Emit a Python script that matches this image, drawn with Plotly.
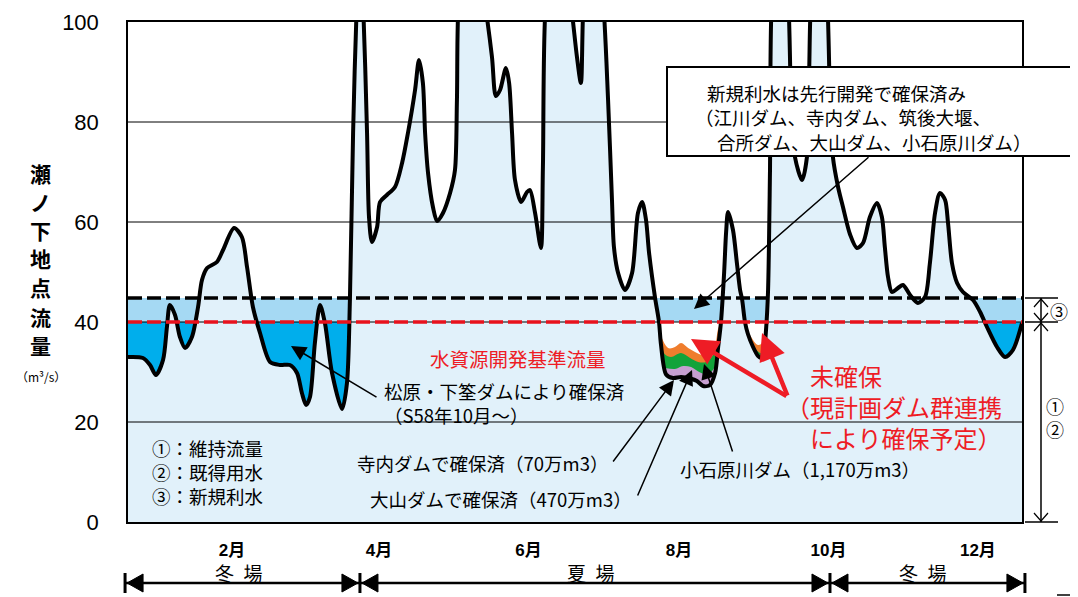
import plotly.graph_objects as go

# ---------------- data ----------------
day = [0.0, 6.1, 9.0, 11.4, 14.3, 15.9, 17.1, 19.2, 21.2, 23.3, 26.1, 28.6, 30.2, 32.3, 36.3, 38.8,
       43.3, 46.5, 48.6, 51.0, 53.9, 58.0, 62.1, 66.1, 69.0, 71.0, 72.7, 74.3, 76.3, 78.4, 80.4,
       83.3, 87.4, 89.4, 90.6, 91.9, 93.5, 94.7, 95.9, 97.6, 98.4, 99.6, 101.7, 102.9, 105.7,
       109.0, 111.9, 114.3, 117.2, 118.8, 120.4, 121.3, 122.5, 124.5, 126.2, 128.6, 131.5, 133.5,
       134.3, 135.1, 139.6, 145.3, 148.6, 150.2, 151.9, 154.3, 155.6, 156.8, 158.0, 160.5, 162.9,
       164.1, 166.2, 168.6, 169.4, 170.7, 175.6, 180.5, 183.3, 184.9, 186.1, 190.3, 193.9, 196.0,
       197.6, 198.4, 200.1, 202.9, 205.8, 208.2, 209.9, 211.5, 212.7, 215.2, 216.8, 217.6, 219.7,
       222.5, 225.8, 229.5, 232.3, 234.8, 237.6, 239.7, 240.9, 242.1, 243.4, 244.2, 245.0, 247.0,
       248.6, 249.9, 250.7, 251.9, 253.1, 255.2, 257.2, 258.4, 259.7, 260.5, 261.3, 262.1, 262.9,
       266.2, 269.5, 270.7, 272.3, 275.2, 277.2, 278.1, 278.9, 282.2, 285.4, 286.6, 287.8, 289.9,
       291.9, 294.8, 297.6, 300.1, 302.9, 305.8, 307.8, 309.0, 310.3, 311.9, 314.4, 316.4, 319.3,
       322.5, 325.4, 327.4, 329.5, 331.5, 333.6, 334.8, 336.4, 338.5, 340.9, 345.0, 347.9, 350.7,
       354.8, 358.1, 361.3, 365.0]
flow = [33.0, 32.8, 31.4, 29.4, 32.4, 39.0, 43.4, 41.4, 37.0, 34.8, 37.0, 43.0, 48.4, 50.8, 52.0, 54.4,
        58.8, 57.0, 51.0, 43.0, 37.8, 32.0, 31.4, 31.4, 29.8, 25.8, 23.4, 25.0, 35.8, 43.4, 39.8,
        29.8, 22.6, 27.8, 44.4, 77.8, 105, 115, 105, 77.8, 61.0, 56.0, 59.0, 64.0, 65.4,
        67.0, 71.8, 77.8, 86.4, 92.4, 87.8, 77.8, 69.8, 63.0, 60.2, 61.8, 65.8, 70.4,
        84.4, 105, 120, 105, 93.0, 85.2, 86.4, 90.8, 87.8, 77.8, 68.4, 64.0, 66.0,
        66.4, 61.8, 54.8, 71.0, 105, 120, 105, 93.0, 87.8, 105, 120, 105, 84.4,
        64.4, 55.0, 49.8, 46.4, 49.8, 61.8, 64.0, 60.4, 54.0, 44.8, 40.0, 35.5, 29.5,
        28.8, 29.0, 28.7, 28.2, 27.2, 27.4, 29.8, 34.8, 40.0, 50.0, 58.0, 62.0, 58.4,
        51.8, 46.4, 44.6, 40.0, 37.6, 35.0, 33.2, 32.8, 34.5, 38.5, 46.0, 70.0, 105,
        120, 105, 85.0, 73.0, 68.4, 73.0, 90.0, 105, 120, 105, 85.0, 73.0, 67.0,
        63.0, 57.5, 54.8, 55.8, 61.0, 63.8, 61.0, 55.0, 49.0, 46.0, 46.8, 47.4, 45.4,
        43.8, 45.0, 51.8, 61.8, 65.8, 64.4, 59.8, 51.8, 47.8, 46.0, 44.4, 42.0, 39.0,
        35.0, 33.0, 34.4, 39.8]

# dam contribution layers in August (top of each band)
koishiwara_x1 = [217.0, 220.5, 223.3, 225.8, 228.7, 231.5, 234.8, 237.6, 239.7, 240.9, 242.1]
koishiwara_y1 = [38.0, 34.8, 35.0, 35.8, 34.8, 34.0, 33.4, 33.8, 35.4, 38.6, 40.0]
ooyama_x1 = [217.9, 219.3, 221.7, 225.8, 229.5, 232.8, 236.1, 238.9, 240.5, 241.3]
ooyama_y1 = [35.0, 33.5, 33.0, 33.8, 32.8, 32.0, 32.0, 33.4, 35.5, 37.0]
terauchi_x1 = [219.3, 223.3, 226.6, 229.9, 233.6, 236.9, 239.3]
terauchi_y1 = [30.8, 30.6, 31.2, 31.0, 29.9, 29.5, 30.8]
koishiwara_x2 = [253.1, 253.9, 257.2, 260.1, 260.7]
koishiwara_y2 = [38.0, 37.4, 35.4, 36.4, 40.0]
ooyama_x2 = [255.2, 256.4, 258.4, 260.1, 260.5]
ooyama_y2 = [35.5, 34.5, 33.8, 34.6, 37.5]

new_use_level = 44.8      # ③ 新規利水 upper level
base_level = 40.0         # 水資源開発基準流量
aug_white = [214.0, 263.0]  # 未確保 period (white)

month_pos = [42.5, 102.5, 163.5, 225.0, 286.0, 347.0]
month_labels = ["2月", "4月", "6月", "8月", "10月", "12月"]
y_ticks = [0, 20, 40, 60, 80, 100]
season_bounds = [-1.2, 94.7, 286.6, 366.2]
season_labels = ["冬\u2002場", "夏\u2002場", "冬\u2002場"]

# ---------------- geometry helpers (page pixels) ----------------
OFF = 8                      # page body margin
W, H = 1078 - OFF, 597 - OFF
L, R, T, B = 128, 1022, 22, 522   # plot area in page pixels


def X(px):
    return (px - L) / (R - L)


def Y(py):
    return (B - py) / (B - T)


def d2px(d):
    return L + d * (R - L) / 365.0


JP = "Noto Sans CJK JP"
RED = "#ee1c25"

fig = go.Figure()

# band layers (drawn first, covered below flow by flow fill)
for xs, ys, col in [(koishiwara_x1, koishiwara_y1, "#ef7d2d"), (koishiwara_x2, koishiwara_y2, "#ef7d2d"),
                    (ooyama_x1, ooyama_y1, "#12a33a"), (ooyama_x2, ooyama_y2, "#12a33a"),
                    (terauchi_x1, terauchi_y1, "#c69fd0")]:
    fig.add_trace(go.Scatter(x=xs, y=ys, mode="lines", line=dict(width=0, shape="spline", color=col),
                             fill="tozeroy", fillcolor=col, hoverinfo="skip", showlegend=False))

fig.add_trace(go.Scatter(x=day, y=flow, mode="lines",
                         line=dict(color="black", width=4, shape="spline", smoothing=0.8),
                         fill="tozeroy", fillcolor="#e1f1fa", hoverinfo="skip", showlegend=False))

shapes = []
# background zones
shapes.append(dict(type="rect", xref="x", yref="y", x0=0, x1=365, y0=base_level, y1=new_use_level,
                   fillcolor="#a5d9f3", line=dict(width=0), layer="below"))
shapes.append(dict(type="rect", xref="x", yref="y", x0=0, x1=aug_white[0], y0=0, y1=base_level,
                   fillcolor="#00aeec", line=dict(width=0), layer="below"))
shapes.append(dict(type="rect", xref="x", yref="y", x0=aug_white[1], x1=365, y0=0, y1=base_level,
                   fillcolor="#00aeec", line=dict(width=0), layer="below"))
# grid
for g in [20, 40, 60, 80]:
    shapes.append(dict(type="line", xref="x", yref="y", x0=0, x1=365, y0=g, y1=g,
                       line=dict(color="black", width=1), layer="above"))
# dashed reference lines
shapes.append(dict(type="line", xref="x", yref="y", x0=0, x1=365, y0=new_use_level, y1=new_use_level,
                   line=dict(color="black", width=3.5, dash="14px,5px"), layer="above"))
shapes.append(dict(type="line", xref="x", yref="y", x0=0, x1=365, y0=base_level, y1=base_level,
                   line=dict(color="#e8121c", width=3.5, dash="14px,5px"), layer="above"))

# note box
shapes.append(dict(type="rect", xref="paper", yref="paper", x0=X(667), x1=X(1071), y0=Y(156), y1=Y(67),
                   fillcolor="white", line=dict(color="black", width=2), layer="above"))


def pline(pts, width=1.5, color="black", close=False, fill=None):
    path = "M" + " L".join(f"{X(a):.5f},{Y(b):.5f}" for a, b in pts)
    if close:
        path += " Z"
    d = dict(type="path", xref="paper", yref="paper", path=path,
             line=dict(color=color, width=width), layer="above")
    if fill:
        d["fillcolor"] = fill
    return d


# right bracket
py_new = B - new_use_level * 5
py_base = B - base_level * 5
for yy in [py_new, py_base, B]:
    shapes.append(pline([(1025, yy), (1058, yy)], width=1.5))
shapes.append(pline([(1041, py_new), (1041, B)], width=1.5))
for (cy, dirn) in [(py_new, -1), (py_base, 1), (py_base, -1), (B, 1)]:
    tip = cy - dirn * 1
    shapes.append(pline([(1034, tip - dirn * 8), (1041, tip), (1048, tip - dirn * 8)], width=1.2))
shapes.append(pline([(1057, 595), (1078, 595)], width=1.5))

# season arrows
sy = 583
bx = [d2px(d) for d in season_bounds]
shapes.append(pline([(bx[0], sy), (bx[-1], sy)], width=2.5))
for i, b in enumerate(bx):
    shapes.append(pline([(b, sy - 10), (b, sy + 10)], width=3))
    if i > 0:
        shapes.append(pline([(b - 2, sy), (b - 18, sy - 9), (b - 18, sy + 9)], width=1, close=True, fill="black"))
    if i < len(bx) - 1:
        shapes.append(pline([(b + 2, sy), (b + 18, sy - 9), (b + 18, sy + 9)], width=1, close=True, fill="black"))

ann = []


def txt(s, x, y, size=18.5, color="black", xa="left", bold=False, family=JP, align="left"):
    ann.append(dict(text=s, x=X(x), y=Y(y), xref="paper", yref="paper", showarrow=False,
                    xanchor=xa, yanchor="middle", align=align,
                    font=dict(family=family, size=size, color=color, weight="bold" if bold else "normal")))


def arrow(hx, hy, tx, ty, color="black", width=1.5, size=2.0):
    ann.append(dict(text="", x=X(hx), y=Y(hy), xref="paper", yref="paper", showarrow=True,
                    ax=tx - hx, ay=ty - hy, arrowhead=2, arrowsize=size, arrowwidth=width,
                    arrowcolor=color, standoff=0))


txt("水資源開発基準流量", 518, 359, 19.5, RED, xa="center")
txt("松原・下筌ダムにより確保済<br>（S58年10月～）", 382, 403)
txt("寺内ダムで確保済（70万m3）", 355, 463)
txt("大山ダムで確保済（470万m3）", 368, 499)
txt("小石原川ダム（1,170万m3）", 678, 469)
txt("①：維持流量<br>②：既得用水<br>③：新規利水", 150, 472)
txt("新規利水は先行開発で確保済み", 705, 93)
txt("（江川ダム、寺内ダム、筑後大堰、", 693, 117)
txt("合所ダム、大山ダム、小石原川ダム）", 715, 142)
txt("\u3000未確保<br>（現計画ダム群連携<br>\u3000により確保予定）", 784, 406, 24, RED)
txt("③", 1059, 311, 18, xa="center")
txt("①<br>②", 1055, 417, 18, xa="center", align="center")
for i, lab in enumerate(season_labels):
    txt(lab, (bx[i] + bx[i + 1]) / 2 - 4, 572, 19, xa="center")
for ch, yy in zip("瀬ノ下地点流量", [173, 202, 230, 258, 287, 317, 345]):
    txt(ch, 40, yy, 21, xa="center", bold=True)
txt("（m³/s）", 41, 376, 12, xa="center")

arrow(291, 346, 378, 398)
arrow(674, 380, 612, 463)
arrow(692, 370, 637, 497)
arrow(704, 364, 733, 453)
arrow(694, 309, 870, 156)
arrow(691, 339, 788, 397, color=RED, width=4.5, size=1.2)
arrow(762, 333, 788, 397, color=RED, width=4.5, size=1.2)

fig.update_layout(
    width=W, height=H, autosize=False,
    margin=dict(l=L - OFF, r=W + OFF - R, t=T - OFF, b=H + OFF - B, pad=0, autoexpand=False),
    paper_bgcolor="white", plot_bgcolor="white",
    shapes=shapes, annotations=ann, showlegend=False,
    xaxis=dict(range=[0, 365], tickvals=month_pos, ticktext=month_labels, showgrid=False, zeroline=False,
               showline=True, linecolor="black", linewidth=1.5, mirror=True, ticks="",
               ticklabelstandoff=12, automargin=False,
               tickfont=dict(family="Liberation Sans, " + JP, size=17, color="black", weight="bold")),
    yaxis=dict(range=[0, 100], tickvals=y_ticks, showgrid=False, zeroline=False,
               showline=True, linecolor="black", linewidth=1.5, mirror=True, ticks="",
               ticklabelstandoff=23, automargin=False,
               tickfont=dict(family="Liberation Sans, Arial", size=22, color="black")),
)

fig.write_html("out.html")
